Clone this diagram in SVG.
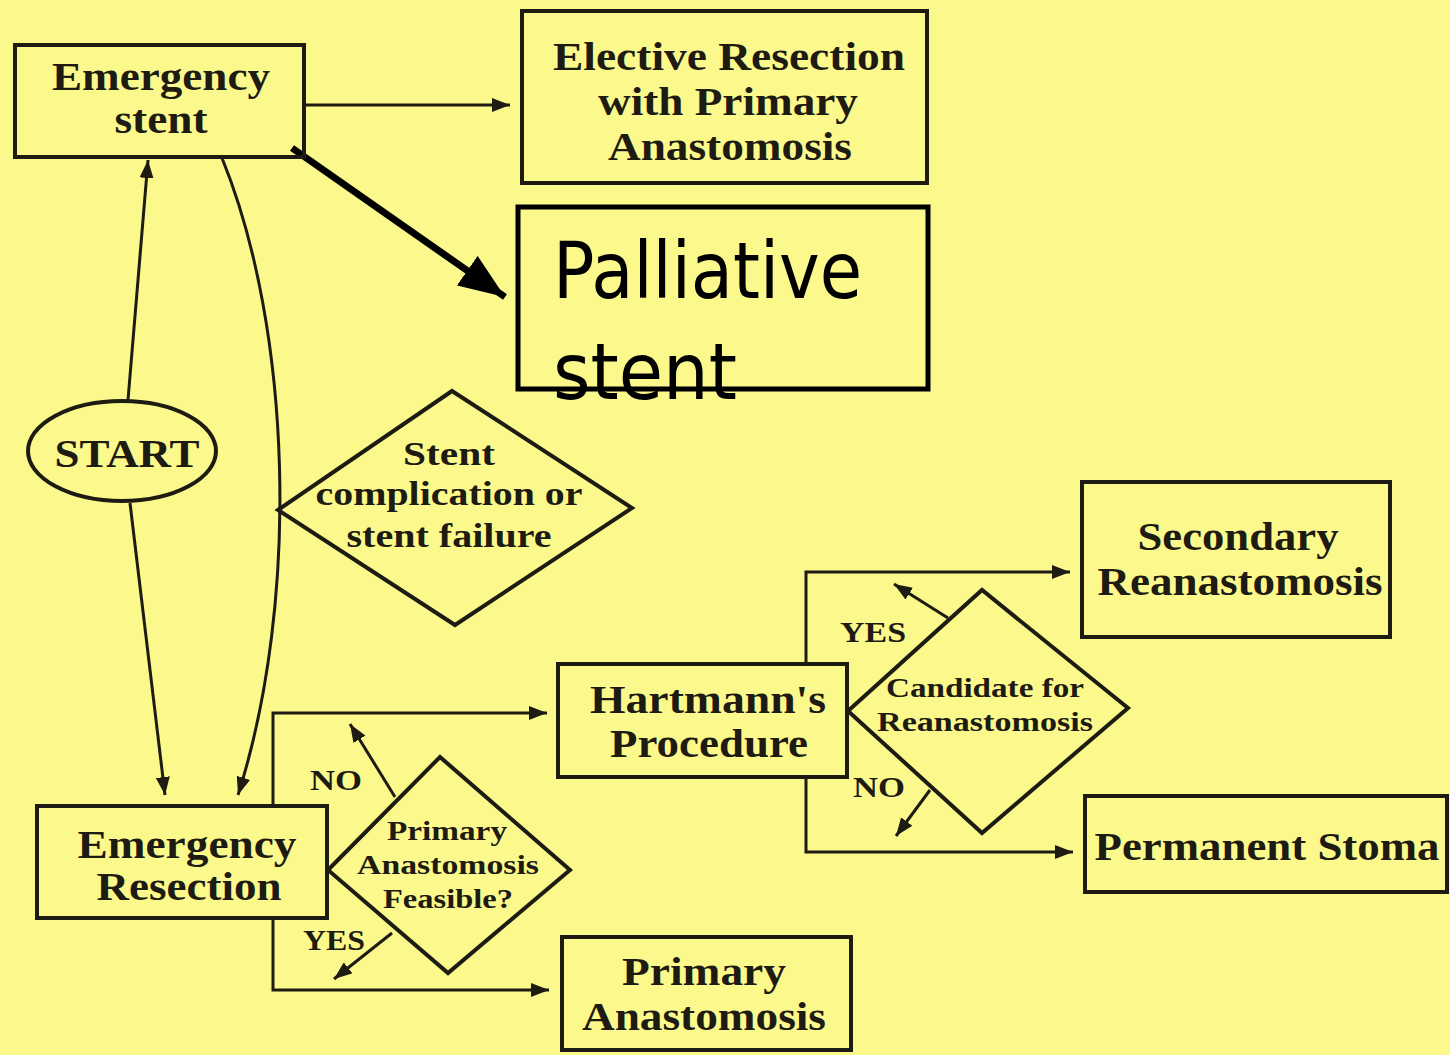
<svg xmlns="http://www.w3.org/2000/svg" width="1450" height="1055" viewBox="0 0 1450 1055">
<defs>
<style>
.bg{fill:#fcf98c}
.box{fill:none;stroke:#1d1b12;stroke-width:4}
.line{fill:none;stroke:#1d1b12;stroke-width:3}
.t{font-family:"Liberation Serif","Times New Roman",serif;font-weight:bold;fill:#1d1b12;text-anchor:middle}
.hand{font-family:"DejaVu Sans","Noto Sans",sans-serif;fill:#000}
</style>
<marker id="ah" markerUnits="userSpaceOnUse" markerWidth="20" markerHeight="14" refX="18" refY="7" orient="auto">
<path d="M0,0 L18,7 L0,14 z" fill="#1d1b12"/>
</marker>
<marker id="big" markerUnits="userSpaceOnUse" markerWidth="48" markerHeight="36" refX="46" refY="18" orient="auto">
<path d="M0,0 L46,18 L0,36 z" fill="#000"/>
</marker>
</defs>
<rect class="bg" x="0" y="0" width="1450" height="1055"/>

<g id="connectors">
<line class="line" x1="304" y1="105" x2="510" y2="105" marker-end="url(#ah)"/>
<line x1="292" y1="148" x2="505" y2="297" stroke="#000" stroke-width="7" marker-end="url(#big)"/>
<line class="line" x1="128" y1="400" x2="148" y2="160" marker-end="url(#ah)"/>
<line class="line" x1="130" y1="503" x2="165" y2="795" marker-end="url(#ah)"/>
<path class="line" d="M222,158 C292,330 300,600 238,795" marker-end="url(#ah)"/>
<polyline class="line" points="273,806 273,713 547,713" marker-end="url(#ah)"/>
<polyline class="line" points="273,918 273,990 549,990" marker-end="url(#ah)"/>
<line class="line" x1="395" y1="797" x2="350" y2="724" marker-end="url(#ah)"/>
<line class="line" x1="392" y1="933" x2="334" y2="979" marker-end="url(#ah)"/>
<polyline class="line" points="806,664 806,572 1070,572" marker-end="url(#ah)"/>
<polyline class="line" points="806,777 806,852 1073,852" marker-end="url(#ah)"/>
<line class="line" x1="948" y1="618" x2="894" y2="584" marker-end="url(#ah)"/>
<line class="line" x1="930" y1="790" x2="896" y2="836" marker-end="url(#ah)"/>
</g>

<g id="emergency-stent">
<rect class="box" x="15" y="45" width="289" height="112"/>
<text class="t" x="161" y="90" font-size="40" textLength="218" lengthAdjust="spacingAndGlyphs">Emergency</text>
<text class="t" x="161" y="133" font-size="40" textLength="93" lengthAdjust="spacingAndGlyphs">stent</text>
</g>

<g id="elective-resection">
<rect class="box" x="522" y="11" width="405" height="172"/>
<text class="t" x="729" y="70" font-size="40" textLength="352" lengthAdjust="spacingAndGlyphs">Elective Resection</text>
<text class="t" x="728" y="115" font-size="40" textLength="260" lengthAdjust="spacingAndGlyphs">with Primary</text>
<text class="t" x="730" y="160" font-size="40" textLength="244" lengthAdjust="spacingAndGlyphs">Anastomosis</text>
</g>

<g id="palliative-stent">
<rect x="518" y="207" width="410" height="182" fill="none" stroke="#000" stroke-width="5"/>
<text class="hand" x="553" y="298" font-size="78" textLength="309" lengthAdjust="spacingAndGlyphs">Palliative</text>
<text class="hand" x="553" y="399" font-size="78" textLength="184" lengthAdjust="spacingAndGlyphs">stent</text>
</g>

<g id="start">
<ellipse cx="122" cy="451" rx="94" ry="50" fill="none" stroke="#1d1b12" stroke-width="4"/>
<text class="t" x="127" y="467" font-size="40" textLength="145" lengthAdjust="spacingAndGlyphs">START</text>
</g>

<g id="stent-complication">
<polygon class="box" points="278,510 452,391 632,508 455,625"/>
<text class="t" x="449" y="465" font-size="34" textLength="92" lengthAdjust="spacingAndGlyphs">Stent</text>
<text class="t" x="449" y="505" font-size="34" textLength="267" lengthAdjust="spacingAndGlyphs">complication or</text>
<text class="t" x="449" y="547" font-size="34" textLength="205" lengthAdjust="spacingAndGlyphs">stent failure</text>
</g>

<g id="emergency-resection">
<rect class="box" x="37" y="806" width="290" height="112"/>
<text class="t" x="187" y="858" font-size="40" textLength="219" lengthAdjust="spacingAndGlyphs">Emergency</text>
<text class="t" x="189" y="900" font-size="40" textLength="185" lengthAdjust="spacingAndGlyphs">Resection</text>
</g>

<g id="primary-feasible">
<polygon class="box" points="328,870 440,757 570,870 448,973"/>
<text class="t" x="447" y="840" font-size="28" textLength="120" lengthAdjust="spacingAndGlyphs">Primary</text>
<text class="t" x="448" y="874" font-size="28" textLength="182" lengthAdjust="spacingAndGlyphs">Anastomosis</text>
<text class="t" x="448" y="908" font-size="28" textLength="130" lengthAdjust="spacingAndGlyphs">Feasible?</text>
<text class="t" x="336" y="790" font-size="30" textLength="52" lengthAdjust="spacingAndGlyphs">NO</text>
<text class="t" x="334" y="950" font-size="30" textLength="62" lengthAdjust="spacingAndGlyphs">YES</text>
</g>

<g id="hartmann">
<rect class="box" x="558" y="664" width="289" height="113"/>
<text class="t" x="708" y="713" font-size="40" textLength="236" lengthAdjust="spacingAndGlyphs">Hartmann's</text>
<text class="t" x="709" y="757" font-size="40" textLength="198" lengthAdjust="spacingAndGlyphs">Procedure</text>
</g>

<g id="primary-anastomosis">
<rect class="box" x="562" y="937" width="289" height="113"/>
<text class="t" x="704" y="985" font-size="40" textLength="164" lengthAdjust="spacingAndGlyphs">Primary</text>
<text class="t" x="704" y="1030" font-size="40" textLength="244" lengthAdjust="spacingAndGlyphs">Anastomosis</text>
</g>

<g id="candidate">
<polygon class="box" points="848,711 982,590 1128,708 982,833"/>
<text class="t" x="985" y="697" font-size="28" font-weight="normal" textLength="198" lengthAdjust="spacingAndGlyphs">Candidate for</text>
<text class="t" x="985" y="731" font-size="28" textLength="216" lengthAdjust="spacingAndGlyphs">Reanastomosis</text>
<text class="t" x="873" y="642" font-size="30" textLength="66" lengthAdjust="spacingAndGlyphs">YES</text>
<text class="t" x="879" y="797" font-size="30" textLength="52" lengthAdjust="spacingAndGlyphs">NO</text>
</g>

<g id="secondary-reanastomosis">
<rect class="box" x="1082" y="482" width="308" height="155"/>
<text class="t" x="1238" y="550" font-size="40" textLength="201" lengthAdjust="spacingAndGlyphs">Secondary</text>
<text class="t" x="1240" y="595" font-size="40" textLength="285" lengthAdjust="spacingAndGlyphs">Reanastomosis</text>
</g>

<g id="permanent-stoma">
<rect class="box" x="1085" y="796" width="362" height="96"/>
<text class="t" x="1267" y="860" font-size="40" textLength="345" lengthAdjust="spacingAndGlyphs">Permanent Stoma</text>
</g>
</svg>
